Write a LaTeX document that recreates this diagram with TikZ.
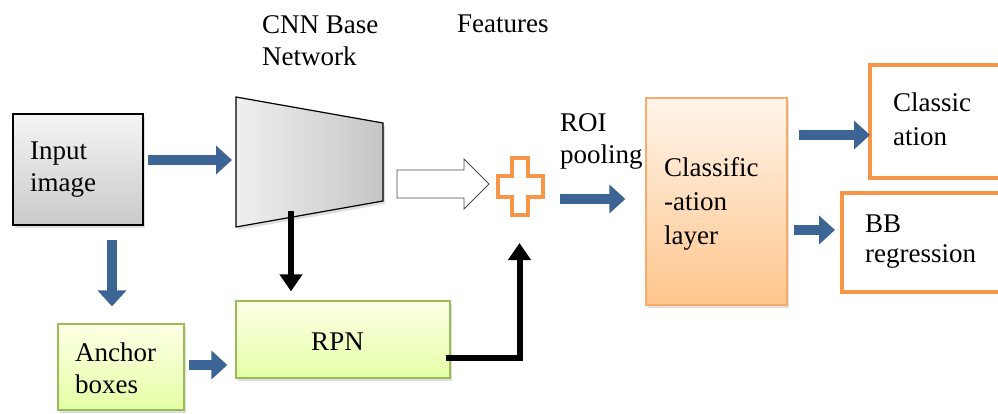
\documentclass[tikz,border=0pt]{standalone}
\usepackage{fontspec}
\setmainfont{Liberation Serif}
\usetikzlibrary{arrows.meta,shadows}
\definecolor{flowblue}{RGB}{60,100,148}
\definecolor{boxorange}{RGB}{247,150,70}
\definecolor{boxgreen}{RGB}{155,187,89}
\tikzset{
  lbl/.style={anchor=north west,inner sep=0pt,align=left,
    font=\fontsize{27}{32}\selectfont},
  softshadow/.style={drop shadow={shadow xshift=2pt,shadow yshift=-3pt,opacity=0.25}},
  graybox/.style={draw=black,line width=1.2pt,top color=gray!8,bottom color=gray!42,
    minimum width=130pt,minimum height=111pt,inner sep=0pt,softshadow},
  greenbox/.style={draw=boxgreen,line width=1.3pt,top color=green!4!yellow!10,bottom color=green!30!yellow!35,
    inner sep=0pt,softshadow},
  orangebox/.style={draw=boxorange!80,line width=1.3pt,top color=orange!8,bottom color=orange!45,
    inner sep=0pt,softshadow},
  outbox/.style={draw=boxorange,line width=4pt,fill=white,inner sep=0pt},
  barrow/.style={draw=flowblue,line width=10pt,
    -{Triangle[length=16pt,width=28pt]}},
  karrow/.style={draw=black,line width=6pt,line join=miter,
    -{Triangle[length=17pt,width=22pt]}},
}
\begin{document}
\begin{tikzpicture}[x=1pt,y=-1pt]
\useasboundingbox (0,0) rectangle (998,414);
\clip (0,0) rectangle (998,414);
\fill[white] (0,0) rectangle (998,414);

% input image
\node[graybox] (inp) at (78,169.5) {};
\node[lbl] (inptxt) at (30,142) {Input\\image};

% anchor boxes
\node[greenbox,minimum width=126pt,minimum height=86pt] (anc) at (121,367) {};
\node[lbl] (anctxt) at (75,343) {Anchor\\boxes};

% RPN
\node[greenbox,minimum width=214pt,minimum height=77pt] (rpn) at (343,339.5) {};
\node[lbl,anchor=north] (rpntxt) at (337.5,333) {RPN};

% CNN base network (trapezoid)
\path[draw=black,line width=1.2pt,left color=gray!12,right color=gray!45,softshadow]
  (236,97) coordinate (cnnTL) -- (383,123) coordinate (cnnTR)
  -- (383,201) coordinate (cnnBR) -- (236,227) coordinate (cnnBL) -- cycle;
\coordinate (cnnIn) at (232,160);
\coordinate (cnnOut) at (291,211);
\node[lbl] (cnntxt) at (262,15) {CNN Base\\Network};
\node[lbl] (feattxt) at (457,15) {Features};

% merge (plus sign)
\draw[boxorange,line width=3.5pt,fill=white]
  (512,158) -- (528,158) -- (528,176) -- (543,176) -- (543,197) -- (528,197)
  -- (528,215) -- (512,215) -- (512,197) -- (498,197) -- (498,176) -- (512,176) -- cycle;
\coordinate (plusB) at (519.5,243);

% feature arrow (outlined)
\draw[black!70,line width=0.9pt,fill=white]
  (397,170) -- (464,170) -- (464,159) -- (489,184) -- (464,209) -- (464,198) -- (397,198) -- cycle;

% ROI pooling
\node[lbl] (roitxt) at (560,113) {ROI\\pooling};
\coordinate (roiL) at (560,199);

% classification layer
\node[orangebox,minimum width=141pt,minimum height=207pt] (cls) at (716.5,201.5) {};
\node[lbl,font=\fontsize{27}{34}\selectfont] (clstxt) at (664,157) {Classific\\-ation\\layer};

% outputs
\node[outbox,minimum width=160pt,minimum height=113pt] (out1) at (950,121.5) {};
\node[lbl,font=\fontsize{27}{34}\selectfont] (out1txt) at (893,93) {Classic\\ation};
\node[outbox,minimum width=190pt,minimum height=99pt] (out2) at (937,242.5) {};
\node[lbl,font=\fontsize{27}{30}\selectfont] (out2txt) at (865,215) {BB\\regression};

% connectors
\draw[barrow] ([xshift=4pt,yshift=9.5pt]inp.east) -- (cnnIn);
\draw[barrow] ([xshift=34pt,yshift=-14pt]inp.south) -- ([xshift=-9pt,yshift=17pt]anc.north);
\draw[barrow] ([xshift=4pt,yshift=2pt]anc.east) -- ([xshift=-8pt,yshift=-25.5pt]rpn.west);
\draw[karrow] (cnnOut) -- ([xshift=-52pt,yshift=9pt]rpn.north);
\draw[karrow] ([xshift=-5pt,yshift=-18.5pt]rpn.east) -| (plusB);
\draw[barrow] (roiL) -- ([xshift=-20pt,yshift=2.5pt]cls.west);
\draw[barrow] ([xshift=11pt,yshift=66.5pt]cls.east) -- ([xshift=2pt,yshift=-13.5pt]out1.west);
\draw[barrow] ([xshift=6pt,yshift=-28.5pt]cls.east) -- ([xshift=-5pt,yshift=12.5pt]out2.west);
\end{tikzpicture}
\end{document}
